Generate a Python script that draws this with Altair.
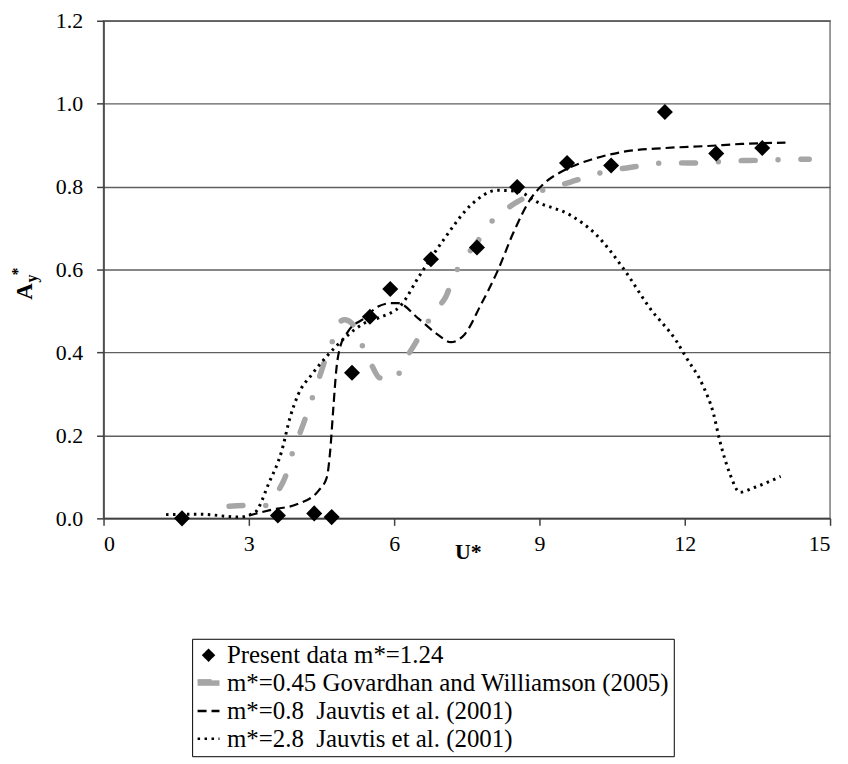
import altair as alt
import pandas as pd

# ---------------- data ----------------
S0 = "Present data m*=1.24"
S1 = "m*=0.45 Govardhan and Williamson (2005)"
S2 = "m*=0.8\u00a0 Jauvtis et al. (2001)"
S3 = "m*=2.8\u00a0 Jauvtis et al. (2001)"
series_names = [S0, S1, S2, S3]

present_u = [1.62, 3.6, 4.35, 4.71, 5.13, 5.5, 5.92, 6.76, 7.71, 8.54, 9.57, 10.48, 11.59, 12.65, 13.6]
present_a = [0.0, 0.007, 0.012, 0.003, 0.351, 0.486, 0.553, 0.625, 0.653, 0.799, 0.857, 0.851, 0.98, 0.880, 0.893]

gov_u = [2.59, 2.93, 3.37, 3.61, 3.75, 3.89, 4.02, 4.16, 4.3, 4.44, 4.64, 4.71, 4.85, 4.98, 5.12,
         5.32, 5.53, 5.7, 6.01, 6.21, 6.42, 6.62, 6.86, 7.07, 7.23, 7.45, 7.72, 7.89, 8.2, 8.54,
         8.88, 9.29, 9.64, 10.05, 10.46, 10.8, 11.24, 11.69, 12.06, 12.5, 12.93, 13.32, 13.73, 14.18, 14.57]
gov_a = [0.029, 0.031, 0.031, 0.067, 0.099, 0.154, 0.195, 0.239, 0.287, 0.335, 0.403, 0.422, 0.471, 0.479, 0.471,
         0.422, 0.371, 0.339, 0.335, 0.379, 0.419, 0.459, 0.503, 0.535, 0.583, 0.627, 0.667, 0.699, 0.735, 0.763,
         0.783, 0.799, 0.811, 0.826, 0.839, 0.845, 0.853, 0.858, 0.857, 0.858, 0.862, 0.863, 0.864, 0.866, 0.866]

j08_u = [3.0, 3.48, 4.02, 4.44, 4.61, 4.68, 4.74, 4.81, 4.88, 5.05, 5.39, 5.67, 5.94, 6.08, 6.49,
         6.9, 7.17, 7.45, 7.79, 8.13, 8.47, 8.82, 9.09, 9.5, 10.12, 10.73, 11.58, 12.48, 13.18, 14.08]
j08_a = [0.007, 0.021, 0.035, 0.067, 0.099, 0.163, 0.259, 0.363, 0.411, 0.451, 0.483, 0.511, 0.519, 0.519, 0.483,
         0.443, 0.425, 0.443, 0.515, 0.595, 0.691, 0.771, 0.807, 0.839, 0.867, 0.884, 0.893, 0.898, 0.903, 0.906]

j28_u = [1.29, 2.0, 2.8, 3.13, 3.41, 3.68, 3.85, 4.02, 4.3, 4.64, 4.98, 5.39, 5.67, 6.15, 6.49, 7.04, 7.58,
         8.13, 8.54, 8.95, 9.64, 10.18, 10.73, 11.28, 11.83, 12.03, 12.38, 12.59, 12.72, 12.93, 13.14, 13.45, 13.98]
j28_a = [0.009, 0.01, 0.003, 0.015, 0.084, 0.163, 0.243, 0.299, 0.347, 0.395, 0.435, 0.471, 0.483, 0.515, 0.579,
         0.675, 0.755, 0.791, 0.789, 0.763, 0.731, 0.683, 0.603, 0.507, 0.427, 0.388, 0.319, 0.254, 0.189, 0.108,
         0.063, 0.075, 0.101]

x_ticks = [0, 3, 6, 9, 12, 15]
y_ticks = [0.0, 0.2, 0.4, 0.6, 0.8, 1.0, 1.2]

# ---------------- styling ----------------
FONT = "'Times New Roman', 'Liberation Serif', Times, serif"
series_colors = ["#000000", "#a6a6a6", "#000000", "#000000"]
series_dashes = [[1, 0], [14, 23, 0, 23], [9, 5], [2.5, 4.5]]
# legend symbols: diamond, thick bar, and two thin strokes
series_shapes = ["diamond", "M-2.2,-0.55H2.2V0.55H-2.2Z", "M-2.2,0H2.2", "M-2.2,0H2.2"]

leg = alt.Legend(title=None, labelFont=FONT, labelFontSize=25, labelColor="black", labelLimit=0)
color_sc = alt.Scale(domain=series_names, range=series_colors)
dash_sc = alt.Scale(domain=series_names, range=series_dashes)
shape_sc = alt.Scale(domain=series_names, range=series_shapes)

x_enc = alt.X("u:Q", scale=alt.Scale(domain=[0, 15], nice=False),
              axis=alt.Axis(values=x_ticks, title="U*", grid=False, tickSize=7, labelPadding=8,
                            labelFont=FONT, labelFontSize=22, labelColor="black",
                            titleFont=FONT, titleColor="black",
                            titleX=366, titleY=40, titleBaseline="alphabetic",
                            titleFontWeight="bold", titleFontSize=22))
y_enc = alt.Y("a:Q", scale=alt.Scale(domain=[0, 1.2], nice=False),
              axis=alt.Axis(values=y_ticks, format=".1f", title="", grid=True, tickSize=7,
                            labelPadding=14, labelFont=FONT, labelFontSize=22, labelColor="black"))


def line_layer(us, as_, name, cap, width):
    df = pd.DataFrame({"u": us, "a": as_, "series": name})
    return alt.Chart(df).mark_line(interpolate="monotone", strokeCap=cap, strokeWidth=width).encode(
        x=x_enc, y=y_enc,
        color=alt.Color("series:N", scale=color_sc, legend=leg),
        strokeDash=alt.StrokeDash("series:N", scale=dash_sc, legend=leg),
    )


gov_layer = line_layer(gov_u, gov_a, S1, "round", 5.5)
j08_layer = line_layer(j08_u, j08_a, S2, "butt", 2.2)
j28_layer = line_layer(j28_u, j28_a, S3, "butt", 3)

pts_df = pd.DataFrame({"u": present_u, "a": present_a, "series": S0})
pts_layer = alt.Chart(pts_df).mark_point(filled=True, size=260, opacity=1).encode(
    x=x_enc, y=y_enc,
    color=alt.Color("series:N", scale=color_sc, legend=leg),
    shape=alt.Shape("series:N", scale=shape_sc, legend=leg),
)


def title_part(txt, px, py, size):
    return alt.Chart(alt.Data(values=[{}])).mark_text(
        text=txt, angle=270, font=FONT, fontWeight="bold", fontSize=size,
        align="center", baseline="middle", color="black"
    ).encode(x=alt.value(px), y=alt.value(py))


ttl_a = title_part("A", -79, 272, 23)
ttl_y = title_part("y", -72, 259, 16)
ttl_s = title_part("*", -86, 252, 16)

chart = alt.layer(gov_layer, j08_layer, j28_layer, pts_layer, ttl_a, ttl_y, ttl_s).properties(
    width=730, height=500,
    autosize=alt.AutoSizeParams(type="none"),
    padding={"left": 96, "top": 11, "right": 10, "bottom": 244},
).configure(
    font=FONT,
).configure_axis(
    labelFont=FONT, labelFontSize=22, labelColor="black",
    titleFont=FONT, titleColor="black",
    domainColor="#404040", domainWidth=1.5, tickColor="#404040", tickWidth=1.5,
    gridColor="#5f5f5f", gridWidth=1.4,
).configure_view(
    stroke="#7a7a7a", strokeWidth=1.5,
).configure_legend(
    orient="none", legendX=89, legendY=621,
    strokeColor="black", fillColor="white", padding=4,
    labelFont=FONT, labelFontSize=25, labelColor="black", labelLimit=0,
    symbolSize=100, symbolStrokeWidth=2.5, rowPadding=2, labelOffset=6,
)

chart.save("out.html", embed_options={"renderer": "svg", "actions": False})
